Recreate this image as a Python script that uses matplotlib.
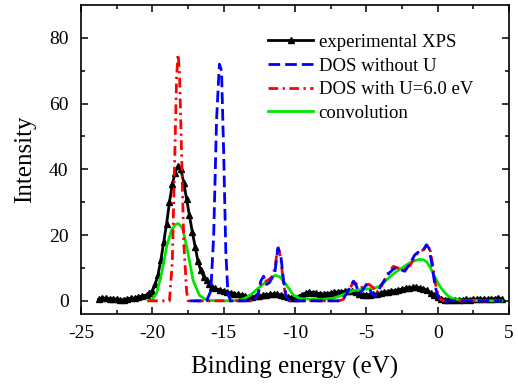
import matplotlib
matplotlib.use("Agg")
import matplotlib.pyplot as plt
import numpy as np

# experimental XPS
xps_e = ([-23.75, -23.5, -23.25, -23.0, -22.75, -22.5, -22.25, -22.0, -21.75,
          -21.5, -21.25, -21.0, -20.75]
         + list(np.arange(-20.4, -15.59, 0.2))
         + list(np.arange(-15.25, 4.51, 0.25)))
xps_i = [0.5, 0.9, 0.8, 0.7, 0.5, 0.6, 0.3, 0.4, 0.6, 0.8, 0.9, 1.1, 1.4,
         # -20.4 .. -15.6 (0.2 eV)
         1.8, 2.4, 3.0, 5.0, 8.0, 12.5, 18, 23.5, 30, 35.5, 39, 41, 40, 36,
         31, 26, 21, 16.5, 12, 9.3, 7.4, 6.2, 5.0, 4.3, 3.8,
         # -15.25 .. 4.5 (0.25 eV)
         3.3, 3.0, 2.7, 2.4, 2.2, 2.0, 1.8, 1.5, 1.3, 1.3,
         1.4, 1.5, 1.7, 1.9, 2.0, 2.1, 2.0, 1.8, 1.5, 1.2, 1.0, 1.0, 1.3, 1.9,
         2.4, 2.6, 2.5, 2.3, 2.2, 2.1, 2.2, 2.4, 2.6, 2.7, 2.8, 2.9, 3.0, 2.9,
         2.6, 2.2, 1.9, 1.8, 1.9, 2.0, 2.2, 2.4, 2.6, 2.8, 3.0, 3.1, 3.3, 3.6,
         3.8, 4.0, 4.1, 4.1, 4.0, 3.7, 3.2, 2.5, 1.8, 1.2, 0.7, 0.4, 0.3, 0.3,
         0.4, 0.3, 0.4, 0.5, 0.4, 0.5, 0.6, 0.5, 0.6, 0.5, 0.6, 0.7, 0.9, 0.6]

# DOS without U
dos0_e = [-17.4, -16.2, -15.9, -15.7, -15.5, -15.3, -15.15, -15.0, -14.85, -14.7,
          -14.5, -12.9, -12.6, -12.4, -12.2, -12.0, -11.8, -11.6, -11.4, -11.2,
          -11.0, -10.8, -10.6, -10.4, -7.0, -6.7, -6.4, -6.1, -5.9, -5.7, -5.5,
          -5.3, -5.0, -4.8, -4.6, -4.4, -4.2, -4.0, -3.7, -3.4, -3.0, -2.6, -2.3,
          -2.0, -1.6, -1.3, -1.0, -0.8, -0.6, -0.4, -0.2, 0.0, 0.2, 0.5, 4.5]
dos0_i = [0, 0, 3, 20, 55, 72, 70, 45, 15, 2,
          0, 0, 2, 6, 7.5, 5, 5.5, 7, 9, 16,
          14, 6, 1, 0, 0, 0.5, 2, 4.5, 6, 4.5, 2.5,
          3, 5, 4, 2, 1.5, 2.5, 4.5, 6.5, 8.5, 10, 9.5, 9,
          11, 14, 15, 15.5, 17, 16, 11, 5, 1.5, 0.5, 0, 0]

# DOS with U = 6.0 eV
dosu_e = [-20.3, -18.8, -18.6, -18.45, -18.3, -18.2, -18.1, -17.95, -17.8, -17.6,
          -17.5, -12.9, -12.6, -12.4, -12.2, -12.0, -11.8, -11.6, -11.4, -11.2,
          -11.0, -10.8, -10.6, -10.4, -6.9, -6.6, -6.3, -6.0, -5.8, -5.6, -5.4,
          -5.1, -4.8, -4.5, -4.3, -4.0, -3.7, -3.4, -3.1, -2.8, -2.5, -2.2, -1.9,
          -1.6, -1.3, -1.0, -0.75, -0.55, -0.35, -0.15, 0.05, 0.25, 0.5, 4.5]
dosu_i = [0, 0, 12, 40, 68, 75, 70, 45, 18, 3,
          0, 0, 2, 5, 6, 6, 6.5, 7.5, 10, 16.8,
          13, 5, 0.5, 0, 0, 0.5, 2.5, 5, 5.5, 4.8, 4,
          4.5, 5, 4, 2.5, 4, 6.5, 9, 10.5, 10, 10, 9.5, 11,
          13.5, 15, 15.5, 17, 16, 11, 5, 1.5, 0.3, 0, 0]

# convolution
conv_e = [-20.3, -20.0, -19.7, -19.35, -19.0, -18.65, -18.4, -18.2, -18.0, -17.85,
          -17.5, -17.15, -16.7, -16.3, -16.0, -14.5, -13.9, -13.5, -13.15, -12.8,
          -12.45, -11.9, -11.4, -11.05, -10.6, -10.1, -9.65, -9.0, -8.5, -8.0,
          -7.3, -6.85, -6.4, -5.95, -5.45, -4.98, -4.5, -4.2, -3.9, -3.6, -3.3,
          -2.9, -2.5, -2.2, -1.8, -1.3, -1.0, -0.75, -0.5, -0.2, 0.1, 0.4, 0.7,
          1.0, 1.5, 2.0, 4.5]
conv_i = [0, 0.5, 2.3, 8.4, 16.5, 21.6, 23.2, 23.5, 22.8, 21.6,
          14.5, 6.3, 1.7, 0.5, 0.1, 0, 0.2, 0.8, 1.7, 3.0,
          4.3, 6.3, 7.8, 7.3, 4.8, 1.7, 0.7, 0.5, 0.5, 0.5,
          0.8, 1.5, 2.3, 3.1, 3.4, 3.6, 3.8, 4.2, 5.0, 6.3, 7.5,
          8.9, 10.0, 10.9, 11.9, 12.6, 12.5, 11.8, 10.0, 7.3, 4.8, 3.0, 1.6,
          0.8, 0.3, 0.1, 0]

plt.rcParams["font.family"] = ["Liberation Serif", "DejaVu Serif"]
plt.rcParams["axes.unicode_minus"] = False

fig = plt.figure(figsize=(5.18, 3.85), dpi=100)
ax = fig.add_axes([0.1564, 0.1844, 0.8262, 0.8026])

ax.plot(xps_e, xps_i, color="black", lw=2.0, marker="^", ms=5,
        label="experimental XPS", zorder=1)
ax.plot(conv_e, conv_i, color="#00e600", lw=2.0, label="convolution", zorder=2)
ax.plot(dosu_e, dosu_i, color="red", lw=2.0, ls=(0, (3.5, 1.6, 0.8, 1.6)),
        label="DOS with U=6.0 eV", zorder=3)
ax.plot(dos0_e, dos0_i, color="blue", lw=2.0, ls=(0, (4.2, 1.8)),
        label="DOS without U", zorder=4)

ax.set_xlim(-25, 5)
ax.set_ylim(-4, 90)
ax.set_xticks(np.arange(-25, 6, 5))
ax.set_xticks(np.arange(-22.5, 5, 5), minor=True)
ax.set_yticks([0, 20, 40, 60, 80])
ax.set_yticks([10, 30, 50, 70], minor=True)
ax.tick_params(which="both", direction="in", top=True, right=True,
               labelsize=14, width=1.1)
ax.tick_params(axis="x", which="both", pad=8)
ax.tick_params(axis="y", which="both", pad=9)
ax.tick_params(which="major", length=5)
ax.tick_params(which="minor", length=3)
for s in ax.spines.values():
    s.set_linewidth(1.2)

ax.set_xlabel("Binding energy (eV)", fontsize=18, labelpad=10)
ax.set_ylabel("Intensity", fontsize=18, labelpad=9)

h, l = ax.get_legend_handles_labels()
order = [0, 3, 2, 1]
ax.legend([h[i] for i in order], [l[i] for i in order], loc="upper left",
          bbox_to_anchor=(0.437, 0.907), frameon=False, fontsize=13.5,
          handlelength=2.4, handletextpad=0.3, labelspacing=0.35,
          borderpad=0, borderaxespad=0, numpoints=1)

fig.savefig("out.png", dpi=100)
